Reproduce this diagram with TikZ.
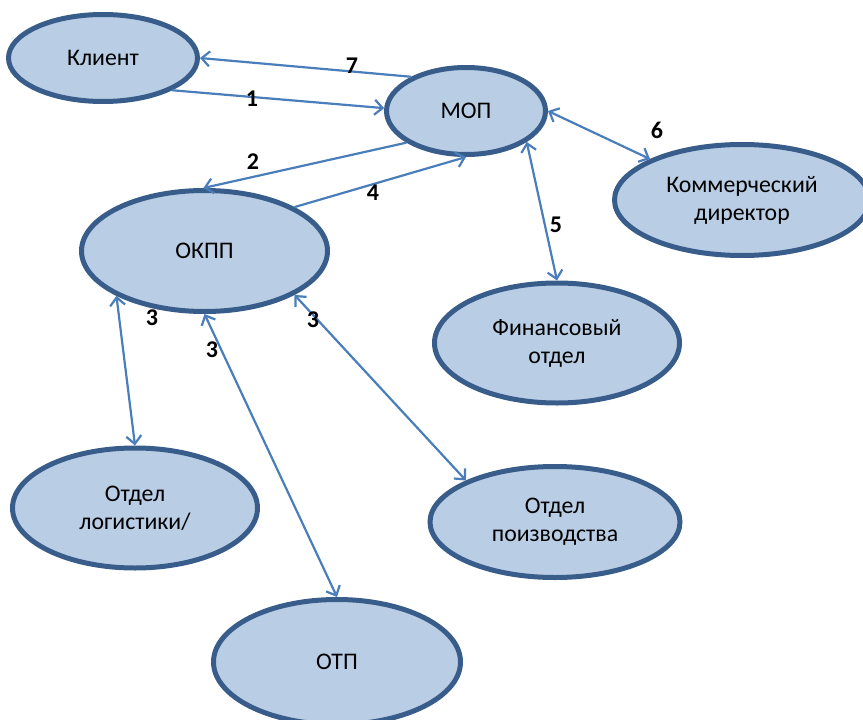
\documentclass[tikz,border=0pt]{standalone}
\usepackage{fontspec}
\setmainfont{Carlito}
\usetikzlibrary{shapes.geometric,arrows.meta}
\definecolor{nodefill}{RGB}{185,205,229}
\definecolor{nodeline}{RGB}{56,93,138}
\definecolor{linkcol}{RGB}{74,126,187}
\begin{document}
\begin{tikzpicture}[x=1pt,y=-1pt,
  unit/.style={ellipse,draw=nodeline,fill=nodefill,line width=5pt,inner sep=0pt,
    align=center,font=\fontsize{23.8}{28}\selectfont},
  link/.style={draw=linkcol,line width=2.2pt,
    arrows={-Straight Barb[length=8pt,width=15pt]}},
  dlink/.style={link,arrows={Straight Barb[length=8pt,width=15pt]-Straight Barb[length=8pt,width=15pt]}},
  num/.style={font=\fontsize{24}{26}\selectfont\bfseries,inner sep=0pt}]
\useasboundingbox (0,0) rectangle (863,720);
\begin{scope}
\clip (0,0) rectangle (863,720);
% departments
\node[unit,minimum width=189pt,minimum height=87pt] (kl) at (103,58) {Клиент};
\node[unit,minimum width=159pt,minimum height=87pt] (mop) at (466,111) {МОП};
\node[unit,minimum width=255pt,minimum height=111pt] (kd) at (742,200) {Коммерческий\\директор};
\node[unit,minimum width=246pt,minimum height=121pt] (okpp) at (204.5,251) {ОКПП};
\node[unit,minimum width=245pt,minimum height=120pt] (fin) at (557,343) {Финансовый\\отдел};
\node[unit,minimum width=245pt,minimum height=120pt] (log) at (135,508) {Отдел\\логистики/};
\node[unit,minimum width=250pt,minimum height=111pt] (prod) at (555,522) {Отдел\\поизводства};
\node[unit,minimum width=247pt,minimum height=125pt] (otp) at (337,662) {ОТП};
\end{scope}
% flows
\draw[link] (mop.148.9) -- (kl.-0.6);
\draw[link] (kl.-25.5) -- (mop.178.6);
\draw[link] (mop.-152.3) -- (okpp.91.4);
\draw[link] (okpp.26.4) -- (mop.-90);
\draw[dlink] (mop.0.7) -- (kd.156);
\draw[dlink] (mop.-27.7) -- (fin.90);
\draw[dlink] (okpp.-153) -- (log.90);
\draw[dlink] (okpp.-90) -- (otp.90);
\draw[dlink] (okpp.-26.4) -- (prod.155);
% step numbers
\node[num] (n7) at (352,66) {7};
\node[num] (n1) at (252,99) {1};
\node[num] (n2) at (253,162) {2};
\node[num] (n4) at (373,193) {4};
\node[num] (n6) at (657,130) {6};
\node[num] (n5) at (556,225) {5};
\node[num] (n3a) at (152,318) {3};
\node[num] (n3b) at (212,350) {3};
\node[num] (n3c) at (313,320) {3};
\end{tikzpicture}
\end{document}
